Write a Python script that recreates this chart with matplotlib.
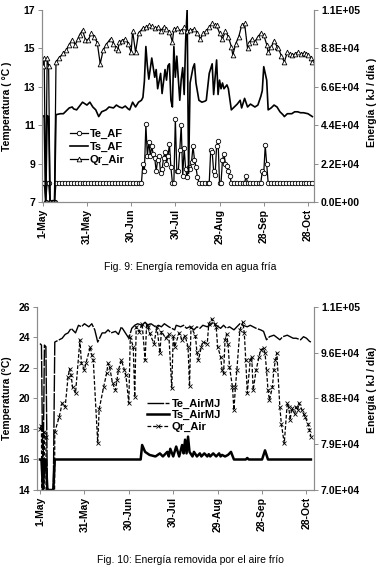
import matplotlib
matplotlib.use('Agg')
import matplotlib.pyplot as plt

plt.rcParams['font.family'] = ['Liberation Sans', 'DejaVu Sans']

# x axis: days counted from 1-May
tick_days = [0, 30, 60, 90, 120, 150, 180]
tick_labels = ['1-May', '31-May', '30-Jun', '30-Jul', '29-Aug', '28-Sep', '28-Oct']

# ---- Fig. 9 : agua fria ----
te_af_days = [0, 1, 2, 3, 4, 5, 6, 7, 8, 9,
              11, 13, 15, 17, 19, 21, 23, 25, 27, 29,
              31, 33, 35, 37, 39, 41, 43, 45, 47, 49,
              51, 53, 55, 57, 59, 61, 63, 65, 67, 68,
              69, 70, 71, 72, 73, 74, 75, 76, 77, 78,
              79, 80, 81, 82, 83, 84, 85, 86, 87, 88,
              89, 90, 91, 92, 93, 94, 95, 96, 97, 98,
              99, 100, 101, 102, 103, 104, 105, 106, 108, 110,
              112, 113, 114, 115, 116, 117, 118, 119, 120, 121,
              122, 123, 124, 125, 126, 127, 128, 130, 132, 134,
              136, 137, 138, 139, 141, 143, 145, 147, 148, 149,
              150, 151, 152, 153, 155, 157, 159, 161, 163, 165,
              167, 169, 171, 173, 175, 177, 179, 181, 183]
te_af = [8, 8, 7, 8, 8, 7, 7, 7, 7, 8,
         8, 8, 8, 8, 8, 8, 8, 8, 8, 8,
         8, 8, 8, 8, 8, 8, 8, 8, 8, 8,
         8, 8, 8, 8, 8, 8, 8, 8, 8, 9.0,
         8.6, 11.05, 9.4, 10.15, 9.4, 9.9, 9.5, 9.3, 8.6, 9.2,
         9.4, 8.5, 8.7, 9.3, 9.6, 9.0, 9.4, 10.0, 8.8, 8.0,
         8.0, 11.35, 8.6, 8.6, 9.7, 11.0, 8.35, 9.8, 8.7, 8.3,
         8.8, 8.7, 9.1, 9.9, 9.2, 8.8, 8.3, 8.0, 8, 8,
         8, 8, 9.7, 9.6, 8.6, 8.4, 9.9, 10.2, 8.0, 8.0,
         9.2, 9.5, 9.0, 8.9, 8.6, 8.35, 8.0, 8, 8, 8,
         8, 8, 8.35, 8, 8, 8, 8, 8, 8, 8.6,
         8.5, 9.95, 9.0, 8, 8, 8, 8, 8, 8, 8,
         8, 8, 8, 8, 8, 8, 8, 8, 8]

ts_af_days = [0, 1, 2, 3, 4, 5, 6, 7, 8, 9,
              12, 14, 16, 18, 20, 21, 23, 25, 27, 30,
              32, 34, 36, 38, 40, 43, 45, 48, 50, 52,
              54, 56, 58, 59, 61, 63, 65, 67, 68, 69,
              70, 71, 72, 74, 76, 77, 78, 80, 81, 83,
              84, 85, 86, 87, 88, 89, 90, 91, 93, 94,
              95, 96, 97, 98, 99, 100, 101, 102, 103, 104,
              106, 108, 110, 111, 113, 115, 116, 118, 119, 120,
              121, 122, 123, 125, 126, 128, 130, 132, 134, 135,
              137, 139, 141, 143, 144, 146, 148, 149, 150, 152,
              153, 155, 157, 159, 161, 163, 164, 166, 169, 171,
              173, 175, 177, 180, 183]
ts_af = [11.45, 11.5, 7, 11.5, 11.45, 7, 7, 7, 7, 11.55,
         11.6, 11.6, 11.75, 11.9, 11.95, 11.85, 11.8, 12.0, 12.2, 12.05,
         12.2, 11.95, 11.8, 11.45, 11.7, 11.8, 11.95, 11.9, 12.05, 11.95,
         11.9, 12.0, 11.85, 11.8, 12.2, 11.95, 12.2, 12.3, 12.45, 13.3,
         15.1, 14.1, 13.4, 14.5, 13.5, 13.9, 12.9, 13.7, 12.65, 13.9,
         13.35, 14.1, 14.2, 12.3, 11.95, 15.1, 13.5, 14.6, 12.3, 13.4,
         14.0, 12.6, 15.4, 17.0, 8.5, 13.2, 13.6, 14.0, 14.2, 13.2,
         12.3, 12.2, 12.25, 12.3, 13.7, 14.2, 12.6, 14.4, 12.6, 13.35,
         12.9, 13.2, 12.9, 13.1, 12.9, 11.8, 11.95, 12.1, 12.3, 11.9,
         12.4, 11.95, 12.1, 12.0, 11.95, 12.05, 12.5, 12.8, 14.05, 13.35,
         11.8, 11.9, 12.05, 11.95, 11.7, 11.55, 11.45, 11.6, 11.6, 11.7,
         11.7, 11.65, 11.65, 11.6, 11.45]

qr_af_days = [0, 1, 2, 3, 4, 5, 6, 7, 8, 9,
              11, 14, 16, 18, 20, 22, 24, 25, 27, 29,
              31, 33, 35, 37, 39, 41, 43, 46, 48, 50,
              51, 52, 54, 56, 58, 60, 61, 63, 65, 68,
              70, 72, 74, 76, 78, 80, 82, 84, 86, 88,
              89, 91, 94, 96, 98, 100, 103, 105, 107, 109,
              111, 113, 115, 117, 118, 120, 122, 124, 126, 128,
              129, 131, 133, 135, 137, 139, 140, 142, 144, 146,
              148, 150, 152, 153, 155, 157, 159, 160, 162, 164,
              166, 168, 169, 171, 173, 175, 177, 179, 180, 182,
              183]
qr_af = [78100, 82500, 0, 82500, 78100, 0, 0, 0, 0, 80300,
         82500, 85300, 86900, 90200, 93000, 90200, 93500, 95700, 98500, 93000,
         93000, 96800, 94600, 91300, 79200, 86900, 90200, 93500, 90800, 88000,
         86900, 91900, 92400, 93500, 90800, 85800, 97900, 85800, 96800, 99600,
         100100, 101200, 100700, 99600, 100100, 97900, 100100, 99000, 97400, 91900,
         99000, 99600, 97900, 100100, 97900, 98500, 99000, 96800, 93500, 96800,
         97900, 100100, 102300, 101200, 101200, 96800, 93500, 97900, 94600, 89100,
         84200, 90800, 94600, 101200, 102300, 88000, 91300, 93500, 91900, 94600,
         96800, 95700, 90200, 85800, 88600, 92400, 89100, 88000, 83600, 80300,
         85800, 84700, 84200, 84700, 85800, 84700, 85300, 84700, 84200, 82500,
         80300]

energy_ticks_9 = [0, 22000, 44000, 66000, 88000, 110000]
energy_labels_9 = ['0.0E+00', '2.2E+04', '4.4E+04', '6.6E+04', '8.8E+04', '1.1E+05']

# ---- Fig. 10 : aire frio ----
te_air_days = [0, 1, 2, 3, 4, 5, 6, 7, 8, 9,
               10, 12, 15, 17, 19, 21, 24, 26, 28, 30,
               33, 35, 37, 39, 42, 44, 46, 48, 51, 53,
               55, 57, 60, 62, 64, 66, 69, 71, 73, 75,
               78, 80, 82, 84, 87, 89, 91, 92, 95, 97,
               99, 101, 104, 106, 108, 110, 113, 115, 117, 119,
               122, 124, 126, 128, 131, 133, 135, 137, 140, 142,
               144, 146, 149, 151, 153, 155, 158, 160, 162, 164,
               167, 169, 171, 173, 176, 178, 180, 182, 183]
te_air = [23.6, 23.5, 14, 23.5, 23.4, 14, 14, 14, 14, 14,
          23.7, 23.8, 23.95, 24.2, 24.3, 24.6, 24.3, 24.8, 24.7, 24.9,
          24.7, 24.9, 24.5, 23.7, 24.3, 24.3, 24.5, 24.3, 24.4, 24.2,
          24.7, 24.4, 23.95, 24.6, 24.8, 24.9, 24.8, 25.0, 24.8, 24.9,
          24.7, 24.8, 24.7, 24.9, 24.7, 24.6, 24.5, 24.8, 24.7, 24.8,
          24.6, 24.7, 24.5, 24.7, 24.6, 24.8, 24.7, 24.8, 25.0, 24.8,
          24.6, 24.8, 24.6, 24.7, 24.5, 24.7, 24.9, 24.8, 24.7, 24.8,
          24.7, 24.6, 24.5, 24.4, 23.85, 24.05, 24.15, 24.0, 23.85, 24.05,
          24.15, 24.05, 23.95, 23.95, 23.85, 24.05, 23.95, 23.75, 23.7]

ts_air_days = [0, 1, 2, 3, 4, 5, 6, 7, 8, 9,
               10, 68, 69, 71, 74, 78, 81, 83, 86, 87,
               88, 90, 92, 94, 96, 97, 98, 99, 100, 101,
               103, 104, 106, 108, 109, 111, 113, 114, 115, 117,
               119, 121, 122, 123, 125, 127, 129, 131, 139, 140,
               141, 150, 152, 154, 183]
ts_air = [16, 16, 14, 16, 16, 14, 14, 14, 14, 14,
          16, 16, 16.95, 16.5, 16.3, 16.2, 16.4, 16.2, 16.5, 16.2,
          16.7, 16.2, 16.85, 16.2, 16.95, 16.4, 17.3, 16.4, 17.5, 16.5,
          16.2, 16.5, 16.2, 16.4, 16.2, 16.4, 16.2, 16.35, 16.2, 16.4,
          16.2, 16.4, 16.2, 16.3, 16.2, 16.3, 16.5, 16.0, 16.0, 16.1,
          16.0, 16.0, 16.6, 16.0, 16.0]

qr_air_days = [0, 1, 2, 3, 4, 5, 6, 7, 8, 9,
               10, 13, 15, 17, 19, 20, 21, 22, 24, 27,
               28, 30, 31, 34, 35, 36, 39, 40, 43, 45,
               46, 47, 49, 51, 52, 53, 55, 57, 58, 60,
               61, 63, 64, 65, 67, 69, 71, 72, 73, 74,
               77, 79, 81, 82, 85, 87, 89, 90, 91, 94,
               96, 98, 100, 101, 102, 105, 106, 107, 109, 110,
               113, 114, 116, 118, 119, 120, 122, 123, 124, 125,
               126, 127, 128, 130, 131, 132, 133, 135, 137, 138,
               139, 140, 142, 143, 144, 146, 148, 149, 151, 152,
               153, 154, 155, 157, 158, 159, 160, 162, 163, 165,
               167, 168, 169, 170, 172, 173, 174, 175, 177, 178,
               179, 181, 182, 183]
qr_air = [81700, 82300, 0, 81100, 80200, 0, 0, 0, 0, 0,
          81100, 84000, 86600, 85900, 91700, 93200, 92000, 89700, 88500, 98700,
          94200, 93000, 94200, 97400, 95800, 94800, 79000, 85500, 89700, 92300,
          94200, 93600, 90400, 89100, 91000, 93000, 94800, 93000, 92000, 86600,
          99200, 97400, 87800, 101200, 100300, 101800, 94800, 101500, 101200, 100000,
          98000, 101200, 96200, 100300, 99000, 99800, 89500, 99500, 97400, 100000,
          98700, 99500, 97400, 89800, 101200, 99500, 96300, 94800, 97400, 98300,
          98000, 101800, 102700, 101800, 101200, 97400, 95500, 93000, 92300, 98700,
          99800, 98000, 93600, 89700, 85300, 89700, 93000, 100600, 102100, 100000,
          94800, 88500, 94800, 95500, 89100, 93000, 95500, 96800, 97100, 96200,
          93000, 89100, 87200, 89700, 93000, 94800, 96200, 85900, 82700, 78900,
          86600, 85900, 83400, 85600, 84500, 85900, 85300, 86600, 85300, 84600,
          84000, 82700, 81500, 80200]

energy_ticks_10 = [70000, 78750, 87500, 96250, 105000]
energy_labels_10 = ['7.0E+04', '7.9E+04', '8.8E+04', '9.6E+04', '1.1E+05']

bold = {'weight': 'bold', 'size': 7.5}
grey = '#8c8c8c'


def style_axes(ax, ax2, dotted_bottom=False):
    for a in (ax, ax2):
        a.spines['top'].set_visible(False)
        for s in ('left', 'right', 'bottom'):
            a.spines[s].set_color(grey)
            a.spines[s].set_linewidth(0.8)
        a.tick_params(length=3, width=0.7, color=grey, labelsize=7.5, pad=2)
    if dotted_bottom:
        ax.spines['bottom'].set_linestyle((0, (1, 1)))
    ax.set_xticks(tick_days)
    ax.set_xticklabels(tick_labels, rotation=90, fontweight='bold')
    for lab in ax.get_yticklabels() + ax2.get_yticklabels():
        lab.set_fontweight('bold')


fig = plt.figure(figsize=(3.8, 5.67), dpi=100)

# Fig. 9
ax = fig.add_axes([0.1105, 0.6437, 0.7158, 0.3386])
ax2 = ax.twinx()
l1, = ax.plot(te_af_days, te_af, color='black', lw=0.9, marker='o', ms=3.2,
              mfc='white', mec='black', mew=0.6)
l2, = ax.plot(ts_af_days, ts_af, color='black', lw=1.2)
l3, = ax2.plot(qr_af_days, qr_af, color='black', lw=0.9, marker='^', ms=3.4,
               mfc='white', mec='black', mew=0.6)
ax.set_xlim(-0.5, 184.1)
ax.set_ylim(7, 17)
ax.set_yticks([7, 9, 11, 13, 15, 17])
ax2.set_ylim(0, 110000)
ax2.set_yticks(energy_ticks_9)
ax2.set_yticklabels(energy_labels_9)
style_axes(ax, ax2)
ax.set_ylabel('Temperatura ( °C )', fontdict=bold)
ax.yaxis.set_label_coords(-0.11, 0.5)
ax2.set_ylabel('Energía ( kJ / día )', fontdict=bold)
ax2.yaxis.set_label_coords(1.195, 0.52)
ax2.legend([l1, l2, l3], ['Te_AF', 'Ts_AF', 'Qr_Air'], loc='upper left',
           bbox_to_anchor=(70 / 380, 1 - 129 / 567), bbox_transform=fig.transFigure,
           frameon=False, borderpad=0, borderaxespad=0, handlelength=1.6,
           handletextpad=0.2, labelspacing=0.25, prop={'weight': 'bold', 'size': 8})

fig.text(0.5, 1 - 267 / 567, 'Fig. 9: Energía removida en agua fría',
         ha='center', va='center', fontsize=7.5)

# Fig. 10
bx = fig.add_axes([0.0982, 0.1358, 0.7282, 0.3228])
bx2 = bx.twinx()
m1, = bx.plot(te_air_days, te_air, color='black', lw=1.0, ls=(0, (12, 1)))
m2, = bx.plot(ts_air_days, ts_air, color='black', lw=1.8)
m3, = bx2.plot(qr_air_days, qr_air, color='black', lw=0.9, ls=(0, (3, 1.5)),
               marker='x', ms=3, mew=0.6)
bx.set_xlim(-1.8, 185.1)
bx.set_ylim(14, 26)
bx.set_yticks([14, 16, 18, 20, 22, 24, 26])
bx2.set_ylim(70000, 105000)
bx2.set_yticks(energy_ticks_10)
bx2.set_yticklabels(energy_labels_10)
style_axes(bx, bx2, dotted_bottom=True)
bx.set_ylabel('Temperatura (°C)', fontdict=bold)
bx.yaxis.set_label_coords(-0.0925, 0.5)
bx2.set_ylabel('Energía ( kJ / día)', fontdict=bold)
bx2.yaxis.set_label_coords(1.19, 0.55)
bx2.legend([m1, m2, m3], ['Te_AirMJ', 'Ts_AirMJ', 'Qr_Air'], loc='upper left',
           bbox_to_anchor=(147 / 380, 1 - 399 / 567), bbox_transform=fig.transFigure,
           frameon=False, borderpad=0, borderaxespad=0, handlelength=2.0,
           handletextpad=0.2, labelspacing=0.1, prop={'weight': 'bold', 'size': 8})

fig.text(0.5, 1 - 560 / 567, 'Fig. 10: Energía removida por el aire frío',
         ha='center', va='center', fontsize=7.5)

fig.savefig('out.png', dpi=100)
